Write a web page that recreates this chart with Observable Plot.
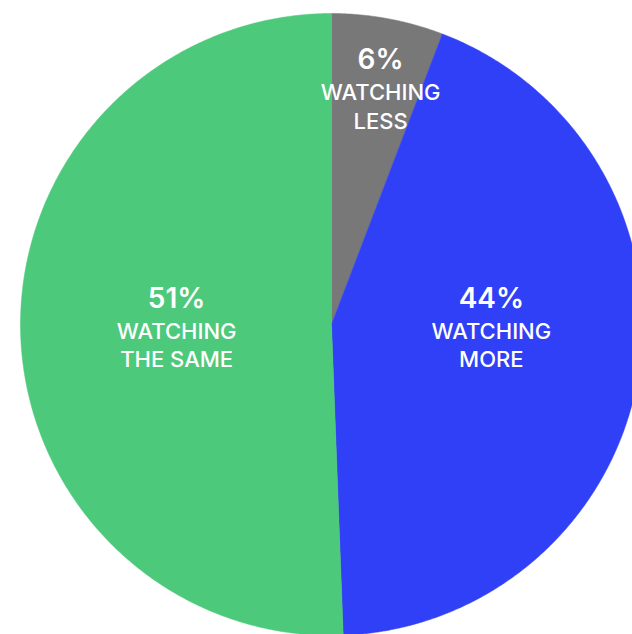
<!DOCTYPE html>
<html>
<head>
<meta charset="utf-8">
<script src="https://cdn.jsdelivr.net/npm/d3@7"></script>
<script src="https://cdn.jsdelivr.net/npm/@observablehq/plot@0.6"></script>
<style>
  html, body { margin: 0; padding: 0; background: #fff; overflow: hidden; }
  #chart svg { display: block; }
</style>
</head>
<body>
<div id="chart"></div>
<script>
// ---- data ----
const categories = ["WATCHING LESS", "WATCHING MORE", "WATCHING THE SAME"];
const values = [5.8, 43.6, 50.6];
const percentLabels = ["6%", "44%", "51%"];
const lineLabels = ["WATCHING\nLESS", "WATCHING\nMORE", "WATCHING\nTHE SAME"];
const colors = ["#787878", "#3040F7", "#4DC97B"];

// ---- layout (label anchors in unit-circle coordinates) ----
const labelAnchors = [[0.158, 0.849], [0.514, 0.083], [-0.498, 0.083]];

const total = d3.sum(values);
const slices = [];
let acc = 0;
categories.forEach((c, i) => {
  const a0 = acc / total * 2 * Math.PI;
  acc += values[i];
  const a1 = acc / total * 2 * Math.PI;
  const n = Math.max(2, Math.ceil((a1 - a0) / (Math.PI / 360)));
  slices.push({cat: c, x: 0, y: 0});
  for (let k = 0; k <= n; k++) {
    const a = a0 + (a1 - a0) * k / n;
    slices.push({cat: c, x: Math.sin(a), y: Math.cos(a)});
  }
  slices.push({cat: c, x: 0, y: 0});
});

const labels = categories.map((c, i) => ({
  cat: c, pct: percentLabels[i], txt: lineLabels[i],
  x: labelAnchors[i][0], y: labelAnchors[i][1]
}));

const plot = Plot.plot({
  width: 632,
  height: 634,
  margin: 0,
  x: {type: "linear", domain: [-1, 1], range: [20, 642], axis: null},
  y: {type: "linear", domain: [-1, 1], range: [635, 13], axis: null},
  color: {domain: categories, range: colors},
  style: {fontFamily: "Inter, 'Noto Sans', sans-serif", background: "#fff"},
  marks: [
    Plot.line(slices, {x: "x", y: "y", z: "cat", fill: "cat", stroke: "cat", strokeWidth: 0.5, curve: "linear"}),
    Plot.text(labels, {x: "x", y: "y", text: "pct", fill: "white", fontSize: 28, fontWeight: 600}),
    Plot.text(labels, {x: "x", y: "y", text: "txt", fill: "white", fontSize: 22, fontWeight: 500, lineHeight: 1.3, dy: 45})
  ]
});
document.getElementById("chart").appendChild(plot);
</script>
</body>
</html>
